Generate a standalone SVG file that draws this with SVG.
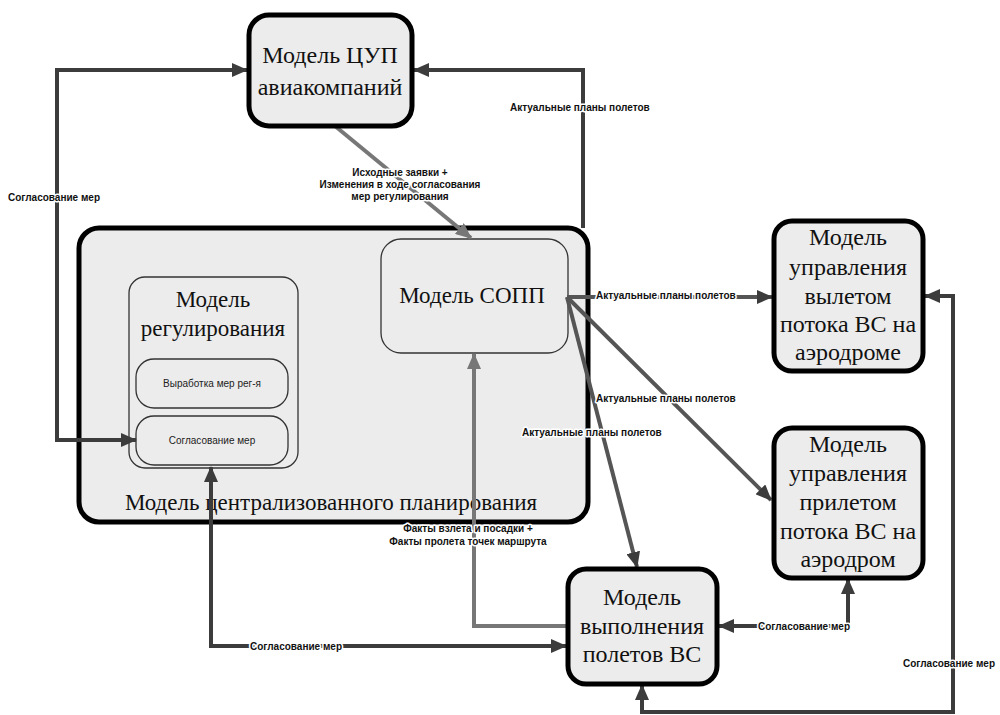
<svg xmlns="http://www.w3.org/2000/svg" width="1000" height="715" viewBox="0 0 1000 715">
<defs>
<style>
.nb{fill:#ececec;stroke:#000;stroke-width:5}
.ib{fill:#ececec;stroke:#333;stroke-width:1.3}
.sf{font-family:'Liberation Serif','Times New Roman','Noto Serif','DejaVu Serif',Times,serif;fill:#111;text-anchor:middle}
.ts{font-family:"Liberation Sans",Arial,sans-serif;font-size:10px;fill:#222;text-anchor:middle}
.lb{font-family:"Liberation Sans Narrow","Liberation Sans",Arial,sans-serif;font-size:10px;font-weight:bold;fill:#111;stroke:#fff;stroke-width:3;paint-order:stroke;stroke-linejoin:round}
.dk{fill:none;stroke:#3c3c3c;stroke-width:4;marker-end:url(#ad)}
.dk2{fill:none;stroke:#3c3c3c;stroke-width:4;marker-end:url(#ad);marker-start:url(#ad)}
.ac{fill:none;stroke:#555;stroke-width:4;marker-end:url(#ad)}
.gr{fill:none;stroke:#777;stroke-width:4;marker-end:url(#ag)}
</style>
<marker id="ad" markerUnits="userSpaceOnUse" markerWidth="16" markerHeight="14" refX="15" refY="7" orient="auto-start-reverse"><path d="M0,0 L16,7 L0,14 z" fill="#3c3c3c"/></marker>
<marker id="ag" markerUnits="userSpaceOnUse" markerWidth="16" markerHeight="14" refX="15" refY="7" orient="auto-start-reverse"><path d="M0,0 L16,7 L0,14 z" fill="#777"/></marker>
</defs>
<rect width="1000" height="715" fill="#fff"/>

<g id="central">
<rect class="nb" x="79" y="228" width="509" height="294" rx="20"/>
<text class="sf" x="331" y="510" font-size="23">Модель централизованного планирования</text>
</g>
<g id="regulation">
<rect class="ib" x="129" y="277" width="169" height="191" rx="16"/>
<text class="sf" x="213" y="307" font-size="23">Модель</text>
<text class="sf" x="213" y="336" font-size="23">регулирования</text>
</g>
<g id="develop">
<rect class="ib" x="136" y="359" width="152" height="49" rx="18"/>
<text class="ts" x="212" y="387">Выработка мер рег-я</text>
</g>
<g id="agree">
<rect class="ib" x="136" y="416" width="152" height="49" rx="18"/>
<text class="ts" x="212" y="444">Согласование мер</text>
</g>
<g id="sopp">
<rect class="ib" x="381" y="239" width="187" height="114" rx="20"/>
<text class="sf" x="472" y="303" font-size="23">Модель СОПП</text>
</g>

<g id="connectors">
<path class="dk2" d="M136,440 L57,440 L57,70 L247,70"/>
<path class="dk" d="M583,228 L583,70 L414,70"/>
<path class="gr" d="M335,126 L471,238"/>
<path class="ac" d="M567,297 L772,297"/>
<path class="ac" d="M567,297 L771,500"/>
<path class="ac" d="M567,297 L637,567"/>
<path class="dk2" d="M211,467 L211,646 L566,646"/>
<path class="gr" d="M567,626 L474,626 L474,354"/>
<path class="dk2" d="M719,626 L848,626 L848,579"/>
<path class="dk2" d="M925,296 L953,296 L953,712 L642,712 L642,685"/>
</g>

<g id="labels">
<text class="lb" x="8" y="201">Согласование мер</text>
<text class="lb" x="510" y="111">Актуальные планы полетов</text>
<text class="lb" x="400" y="176" text-anchor="middle">Исходные заявки +</text>
<text class="lb" x="400" y="188" text-anchor="middle">Изменения в ходе согласования</text>
<text class="lb" x="400" y="200" text-anchor="middle">мер регулирования</text>
<text class="lb" x="596" y="299">Актуальные планы полетов</text>
<text class="lb" x="596" y="402">Актуальные планы полетов</text>
<text class="lb" x="522" y="436">Актуальные планы полетов</text>
<text class="lb" x="468" y="532" text-anchor="middle">Факты взлета и посадки +</text>
<text class="lb" x="468" y="545" text-anchor="middle">Факты пролета точек маршрута</text>
<text class="lb" x="250" y="650">Согласование мер</text>
<text class="lb" x="758" y="630">Согласование мер</text>
<text class="lb" x="903" y="667">Согласование мер</text>
</g>

<g id="cup">
<rect class="nb" x="249" y="15" width="163" height="111" rx="20"/>
<text class="sf" x="330" y="63" font-size="24">Модель ЦУП</text>
<text class="sf" x="330" y="95" font-size="24">авиакомпаний</text>
</g>
<g id="departure">
<rect class="nb" x="774" y="221" width="149" height="150" rx="18"/>
<text class="sf" x="848" y="245" font-size="24">Модель</text>
<text class="sf" x="848" y="275" font-size="24">управления</text>
<text class="sf" x="848" y="304" font-size="24">вылетом</text>
<text class="sf" x="848" y="332" font-size="24">потока ВС на</text>
<text class="sf" x="848" y="360" font-size="24">аэродроме</text>
</g>
<g id="arrival">
<rect class="nb" x="774" y="428" width="149" height="150" rx="18"/>
<text class="sf" x="848" y="452" font-size="24">Модель</text>
<text class="sf" x="848" y="481" font-size="24">управления</text>
<text class="sf" x="848" y="510" font-size="24">прилетом</text>
<text class="sf" x="848" y="539" font-size="24">потока ВС на</text>
<text class="sf" x="848" y="567" font-size="24">аэродром</text>
</g>
<g id="execution">
<rect class="nb" x="568" y="569" width="149" height="115" rx="18"/>
<text class="sf" x="642" y="605" font-size="24">Модель</text>
<text class="sf" x="642" y="634" font-size="24">выполнения</text>
<text class="sf" x="642" y="662" font-size="24">полетов ВС</text>
</g>
</svg>
